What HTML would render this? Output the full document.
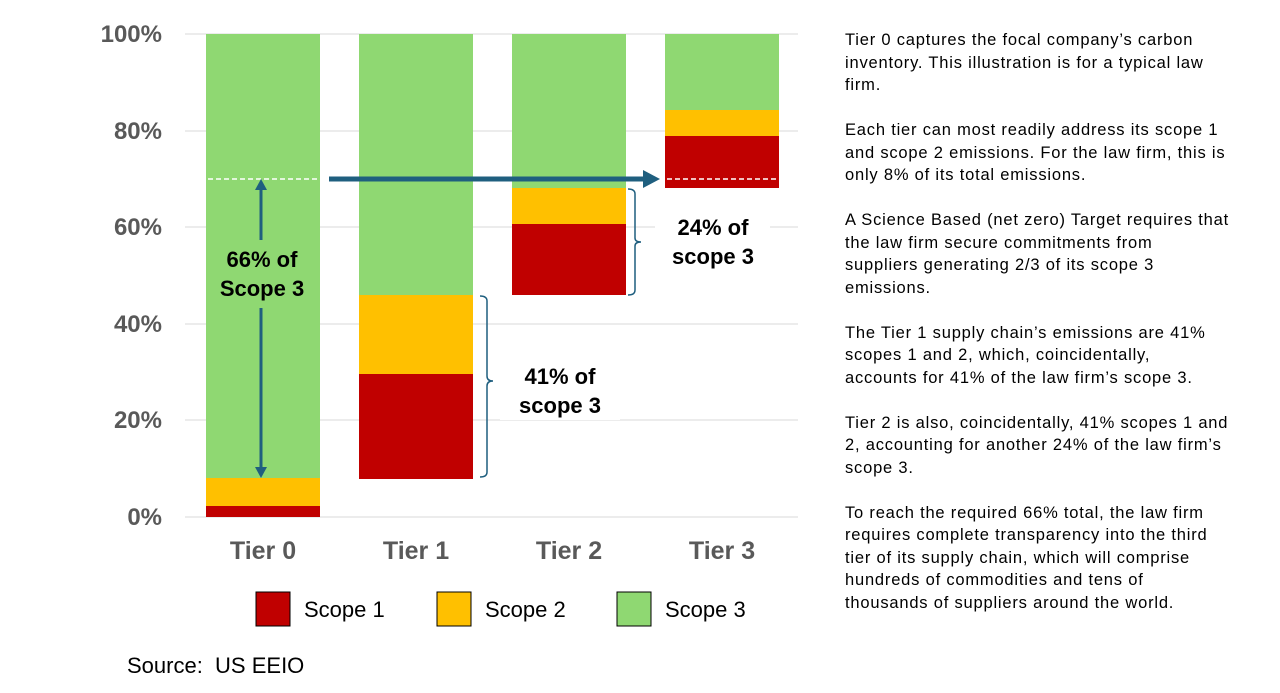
<!DOCTYPE html>
<html><head><style>
body{margin:0;background:#fff;width:1280px;height:693px;overflow:hidden;font-family:"Liberation Sans",Arial,sans-serif}
.note{position:absolute;left:845px;top:29px;font-size:16.5px;letter-spacing:0.8px;line-height:22.5px;color:#000;white-space:nowrap}
.note p{margin:0 0 22.5px 0}
</style></head><body>
<svg width="1280" height="693" style="position:absolute;left:0;top:0" font-family="Liberation Sans, Arial, sans-serif">
<g stroke="#d9d9d9" stroke-width="1">
<line x1="185" y1="34" x2="798" y2="34"/><line x1="185" y1="131" x2="798" y2="131"/>
<line x1="185" y1="227" x2="798" y2="227"/><line x1="185" y1="324" x2="798" y2="324"/>
<line x1="185" y1="420" x2="798" y2="420"/><line x1="185" y1="517" x2="798" y2="517"/>
</g>
<g font-size="24" font-weight="bold" fill="#595959" text-anchor="end">
<text x="162" y="42">100%</text><text x="162" y="139">80%</text><text x="162" y="235">60%</text>
<text x="162" y="332">40%</text><text x="162" y="428">20%</text><text x="162" y="525">0%</text>
</g>
<rect x="206" y="34" width="114" height="444" fill="#8fd872"/>
<rect x="206" y="478" width="114" height="28" fill="#ffc000"/>
<rect x="206" y="506" width="114" height="11" fill="#c00000"/>
<rect x="359" y="34" width="114" height="261" fill="#8fd872"/>
<rect x="359" y="295" width="114" height="79" fill="#ffc000"/>
<rect x="359" y="374" width="114" height="105" fill="#c00000"/>
<rect x="512" y="34" width="114" height="154" fill="#8fd872"/>
<rect x="512" y="188" width="114" height="36" fill="#ffc000"/>
<rect x="512" y="224" width="114" height="71" fill="#c00000"/>
<rect x="665" y="34" width="114" height="76" fill="#8fd872"/>
<rect x="665" y="110" width="114" height="26" fill="#ffc000"/>
<rect x="665" y="136" width="114" height="52" fill="#c00000"/>
<g stroke="#fff" stroke-width="1.5" stroke-dasharray="5,3">
<line x1="208" y1="179" x2="318" y2="179"/><line x1="667" y1="179" x2="777" y2="179"/>
</g>
<g stroke="#1f5f7f" fill="#1f5f7f">
<line x1="329" y1="179" x2="645" y2="179" stroke-width="5"/>
<polygon points="643,170 660,179 643,188" stroke="none"/>
<line x1="261" y1="188" x2="261" y2="240" stroke-width="3"/>
<line x1="261" y1="308" x2="261" y2="470" stroke-width="3"/>
<polygon points="255,190 261,179 267,190" stroke="none"/>
<polygon points="255,467 261,478 267,467" stroke="none"/>
<path d="M480,296 q7,0 7,5 v75 q0,5 6,5 q-6,0 -6,5 v86 q0,5 -7,5" fill="none" stroke-width="1.5"/>
<path d="M628,189 q7,0 7,5 v44 q0,4 6,4 q-6,0 -6,4 v44 q0,5 -7,5" fill="none" stroke-width="1.5"/>
</g>
<g font-size="22" font-weight="bold" fill="#000" text-anchor="middle">
<text x="262" y="267">66% of</text><text x="262" y="296">Scope 3</text>
<rect x="500" y="360" width="120" height="60" fill="#fff"/>
<text x="560" y="384">41% of</text><text x="560" y="413">scope 3</text>
<rect x="655" y="212" width="115" height="60" fill="#fff"/>
<text x="713" y="235">24% of</text><text x="713" y="264">scope 3</text>
</g>
<g font-size="25" font-weight="bold" fill="#595959" text-anchor="middle">
<text x="263" y="559">Tier 0</text><text x="416" y="559">Tier 1</text>
<text x="569" y="559">Tier 2</text><text x="722" y="559">Tier 3</text>
</g>
<g stroke="#000" stroke-width="1">
<rect x="256" y="592" width="34" height="34" fill="#c00000"/>
<rect x="437" y="592" width="34" height="34" fill="#ffc000"/>
<rect x="617" y="592" width="34" height="34" fill="#8fd872"/>
</g>
<g font-size="22" fill="#000">
<text x="304" y="617">Scope 1</text><text x="485" y="617">Scope 2</text><text x="665" y="617">Scope 3</text>
<text x="127" y="673" xml:space="preserve">Source:  US EEIO</text>
</g>
</svg>
<div class="note">
<p>Tier 0 captures the focal company’s carbon<br>inventory. This illustration is for a typical law<br>firm.</p>
<p>Each tier can most readily address its scope 1<br>and scope 2 emissions. For the law firm, this is<br>only 8% of its total emissions.</p>
<p>A Science Based (net zero) Target requires that<br>the law firm secure commitments from<br>suppliers generating 2/3 of its scope 3<br>emissions.</p>
<p>The Tier 1 supply chain’s emissions are 41%<br>scopes 1 and 2, which, coincidentally,<br>accounts for 41% of the law firm’s scope 3.</p>
<p>Tier 2 is also, coincidentally, 41% scopes 1 and<br>2, accounting for another 24% of the law firm’s<br>scope 3.</p>
<p>To reach the required 66% total, the law firm<br>requires complete transparency into the third<br>tier of its supply chain, which will comprise<br>hundreds of commodities and tens of<br>thousands of suppliers around the world.</p>
</div>
</body></html>
